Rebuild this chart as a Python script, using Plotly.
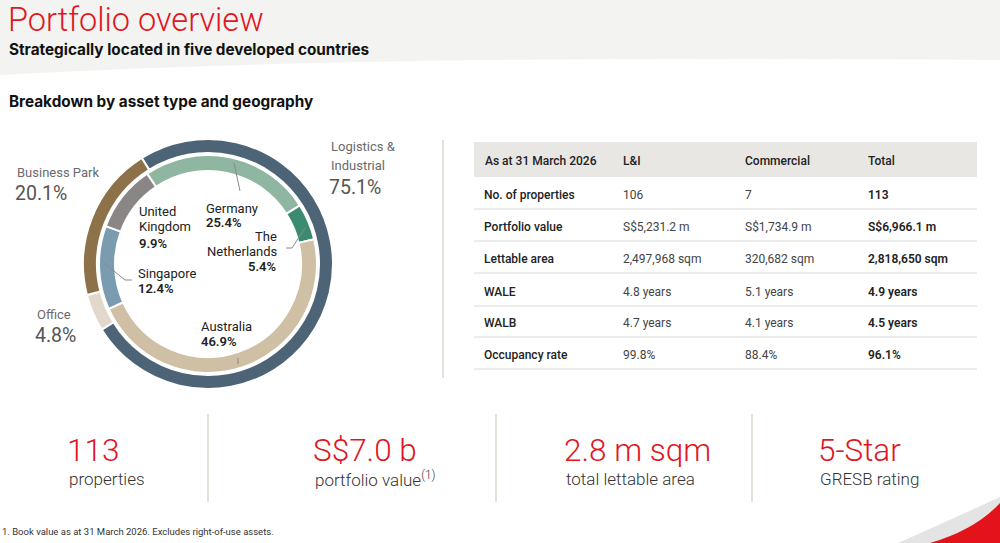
import plotly.graph_objects as go

W, H = 1000, 543

# ---------------- data ----------------
asset_types = ["Logistics & Industrial", "Office", "Business Park"]
asset_share = [75.1, 4.8, 20.1]
asset_colors = ["#4d6476", "#e2d8cb", "#8c7149"]

countries = ["Germany", "The Netherlands", "Australia", "Singapore", "United Kingdom"]
country_share = [25.4, 5.4, 46.9, 12.4, 9.9]
country_colors = ["#8fb6a1", "#3b8a72", "#cfbfa5", "#7b9bb1", "#8b8686"]

table_header = ["As at 31 March 2026", "L&I", "Commercial", "Total"]
row_labels = ["No. of properties", "Portfolio value", "Lettable area", "WALE", "WALB", "Occupancy rate"]
li_values = ["106", "S$5,231.2 m", "2,497,968 sqm", "4.8 years", "4.7 years", "99.8%"]
commercial_values = ["7", "S$1,734.9 m", "320,682 sqm", "5.1 years", "4.1 years", "88.4%"]
total_values = ["113", "S$6,966.1 m", "2,818,650 sqm", "4.9 years", "4.5 years", "96.1%"]

stat_values = ["113", "S$7.0 b", "2.8 m sqm", "5-Star"]
stat_labels = ["properties", "portfolio value<sup>(1)</sup>", "total lettable area", "GRESB rating"]

# ---------------- helpers ----------------
def px(x):
    return x / W

def py(y):
    return 1 - y / H

def dom(cx, cy, r):
    return dict(x=[px(cx - r), px(cx + r)], y=[py(cy + r), py(cy - r)])

RED = "#e0161e"
FONT = "Roboto"

annotations = []
shapes = []

def text(x, y, s, size=12, color="#222", weight=400, anchor="left", family=FONT):
    annotations.append(dict(
        x=px(x), y=py(y), xref="paper", yref="paper", text=s, showarrow=False,
        xanchor=anchor, yanchor="middle",
        font=dict(family=family, size=size, color=color, weight=weight),
    ))

def line(pts, color="#8a8a8a", width=1):
    d = "M " + " L ".join(f"{px(a)},{py(b)}" for a, b in pts)
    shapes.append(dict(type="path", xref="paper", yref="paper", path=d,
                       line=dict(color=color, width=width)))

def fillpath(d, color):
    shapes.append(dict(type="path", xref="paper", yref="paper", path=d,
                       fillcolor=color, line=dict(width=0), layer="below"))

fig = go.Figure()

CX, CY = 208, 264
fig.add_trace(go.Pie(
    labels=asset_types, values=asset_share, sort=False, direction="clockwise",
    rotation=-32, hole=111 / 125, domain=dom(CX, CY, 125),
    marker=dict(colors=asset_colors, line=dict(color="white", width=2)),
    textinfo="none", hoverinfo="label+percent", showlegend=False,
))
fig.add_trace(go.Pie(
    labels=countries, values=country_share, sort=False, direction="clockwise",
    rotation=-34, hole=93 / 109, domain=dom(CX, CY, 109),
    marker=dict(colors=country_colors, line=dict(color="white", width=2)),
    textinfo="none", hoverinfo="label+percent", showlegend=False,
))

# ---------------- header band ----------------
fillpath(f"M 0,1 L 1,1 L 1,{py(60)} Q {px(380)},{py(54)} 0,{py(75)} Z", "#f3f3f1")
text(6, 20, "Portfolio overview", size=32.5, color=RED, weight=300)
text(7, 50, "Strategically located in five developed countries", size=15.3, color="#111", weight=700, family="Inter")
text(7, 102, "Breakdown by asset type and geography", size=15.3, color="#111", weight=700, family="Inter")

# ---------------- donut labels ----------------
GREY = "#6b6b6b"
text(329, 146, "Logistics &", size=13, color=GREY)
text(329, 165, "Industrial", size=13, color=GREY)
text(327, 187, "75.1%", size=19.5, color="#555")
text(15, 172, "Business Park", size=13, color=GREY)
text(13, 193, "20.1%", size=19.5, color="#555")
text(35, 314, "Office", size=13, color=GREY)
text(33, 335, "4.8%", size=19.5, color="#555")

DK = "#222"
text(137, 211, "United", size=13, color=DK)
text(137, 227, "Kingdom", size=13, color=DK)
text(137, 243, "9.9%", size=13, color=DK, weight=600)
text(204, 208, "Germany", size=13, color=DK)
text(204, 223, "25.4%", size=13, color=DK, weight=600)
text(279, 236, "The", size=13, color=DK, anchor="right")
text(280, 251, "Netherlands", size=13, color=DK, anchor="right")
text(279, 266, "5.4%", size=13, color=DK, weight=600, anchor="right")
text(136, 273, "Singapore", size=13, color=DK)
text(136, 288, "12.4%", size=13, color=DK, weight=600)
text(199, 326, "Australia", size=13, color=DK)
text(199, 342, "46.9%", size=13, color=DK, weight=600)

# leader lines
line([(240, 191), (234, 163)])
line([(286, 248), (292, 248), (305, 228)])
line([(104, 263), (125, 280), (132, 280)])
line([(238, 358), (238, 364)])

# vertical separator
line([(443, 140), (443, 378)], color="#ddd7cd", width=1.5)

# ---------------- table ----------------
TX0, TX1 = 474, 977
col_x = [483, 621, 743, 866]
fillpath(f"M {px(TX0)},{py(142)} L {px(TX1)},{py(142)} L {px(TX1)},{py(177)} L {px(TX0)},{py(177)} Z", "#e9e7e4")
for i, h in enumerate(table_header):
    text(col_x[i], 161, h, size=12, color="#222", weight=500)

row_y = [195, 227, 259, 292, 323, 355]
for i in range(len(row_labels)):
    y = row_y[i]
    text(482, y, row_labels[i], size=12, color="#222", weight=500)
    text(col_x[1], y, li_values[i], size=12, color="#444")
    text(col_x[2], y, commercial_values[i], size=12, color="#444")
    text(col_x[3], y, total_values[i], size=12, color="#222", weight=600)
    line([(TX0, y + 14), (TX1, y + 14)], color="#ececec", width=2)

# ---------------- stats ----------------
stat_x = [67, 313, 564, 818]
for i in range(len(stat_values)):
    text(stat_x[i] - 2, 450, stat_values[i], size=31.5, color=RED, weight=300)
    text(stat_x[i], 479, stat_labels[i], size=17, color="#333", weight=300)
for x in [208, 496, 752]:
    line([(x, 414), (x, 502)], color="#ddd7cd", width=1.5)

text(0, 531, "1. Book value as at 31 March 2026. Excludes right-of-use assets.", size=9.5, color="#333")

# ---------------- corner swoosh ----------------
fillpath(f"M {px(898)},0 Q {px(950)},{py(520)} {px(1000)},{py(497)} L 1,0 Z", "#e4e4e4")
fillpath(f"M {px(930)},0 Q {px(975)},{py(530)} 1,{py(503)} L 1,0 Z", "#e2131b")

fig.update_layout(
    width=W, height=H, margin=dict(l=0, r=0, t=0, b=0),
    paper_bgcolor="white", plot_bgcolor="white", showlegend=False,
    annotations=annotations, shapes=shapes,
)

fig.write_html("out.html")
